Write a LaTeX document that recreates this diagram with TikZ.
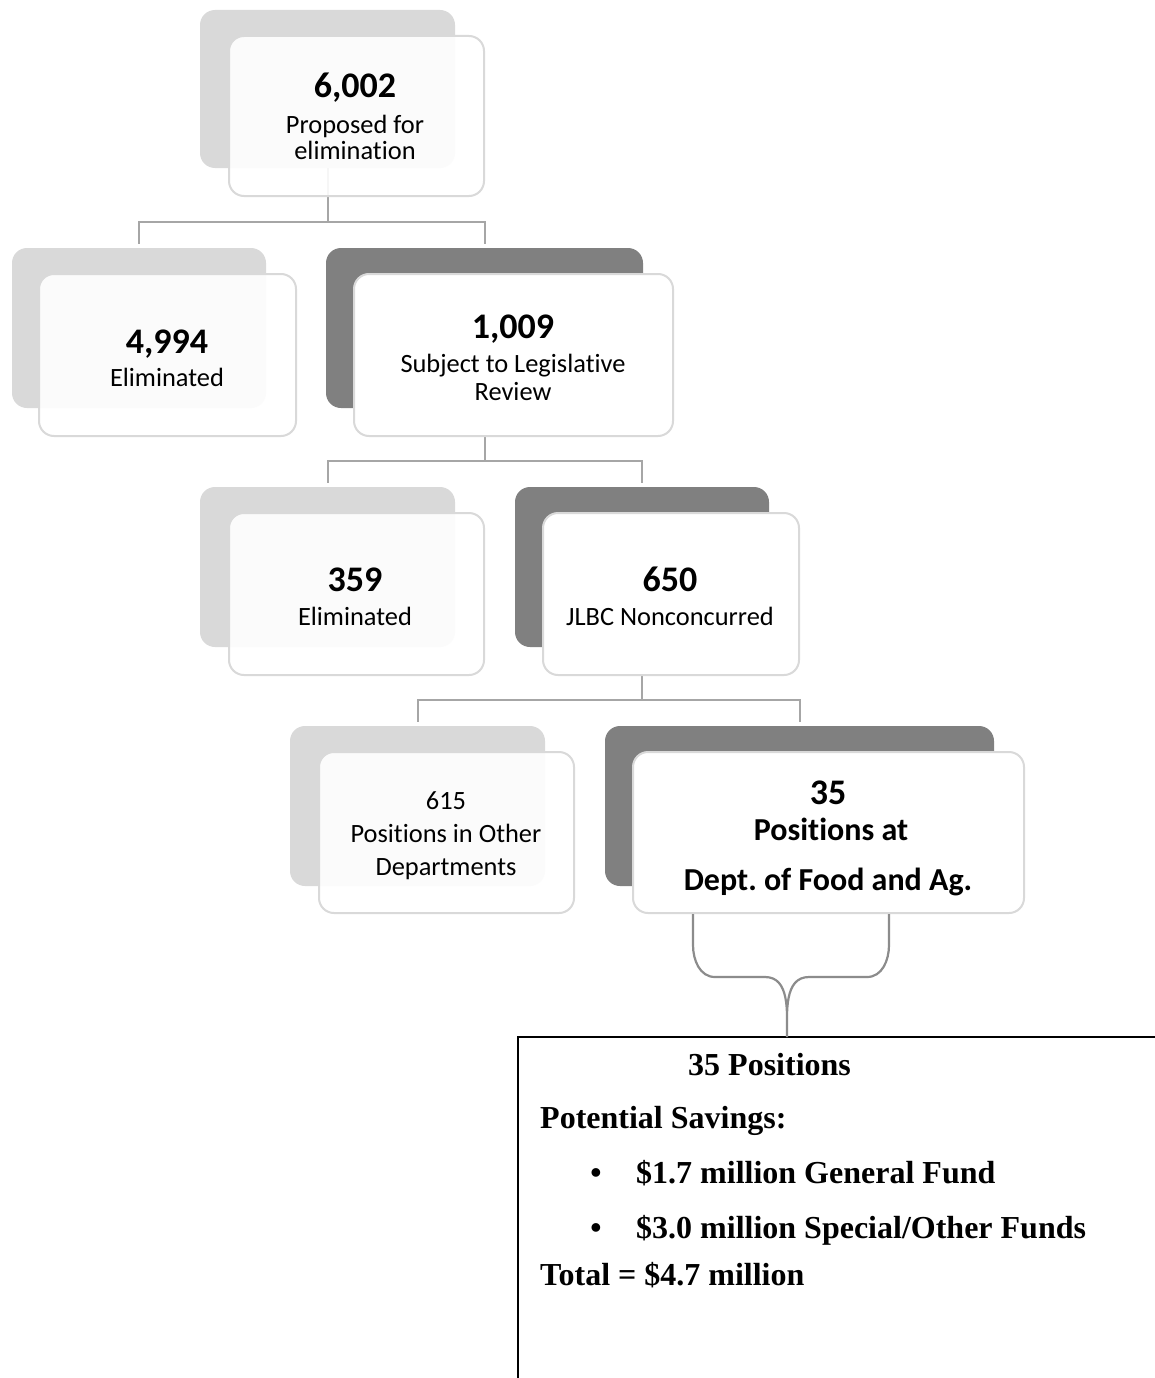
\documentclass[tikz,border=0pt]{standalone}
\usepackage{fontspec}
\setmainfont{Carlito}[Ligatures=NoCommon]
\newfontfamily\savefont{Liberation Serif}
\frenchspacing
\begin{document}
\begin{tikzpicture}[x=1pt,y=-1pt,
  backlight/.style={fill=black!15,rounded corners=15pt,inner sep=0},
  backdark/.style={fill=black!50,rounded corners=15pt,inner sep=0},
  frontbox/.style={draw=black!15,line width=2pt,fill=white,fill opacity=.9,rounded corners=15pt,inner sep=0},
  frontdark/.style={frontbox,fill opacity=1},
  link/.style={draw=black!35,line width=2pt},
  brace/.style={draw=black!45,line width=2.2pt},
  savebox/.style={draw=black,line width=1.5pt,inner sep=0},
  num/.style={anchor=base,inner sep=0,font=\fontsize{36}{36}\selectfont\bfseries},
  lbl/.style={anchor=base,inner sep=0,font=\fontsize{26.4}{26}\selectfont},
  blbl/.style={anchor=base,inner sep=0,font=\fontsize{32}{32}\selectfont\bfseries},
  sav/.style={anchor=base west,inner sep=0,font=\savefont\fontsize{32}{32}\selectfont\bfseries}]
  \fill[white] (0,0) rectangle (1154,1378);
  \useasboundingbox (0,0) rectangle (1154,1378);
  % back boxes
  \node[backlight,minimum width=255pt,minimum height=158pt] (b1) at (327.5,89) {};
  \node[backlight,minimum width=254pt,minimum height=160pt] (b2) at (139,328) {};
  \node[backdark,minimum width=317pt,minimum height=160pt] (b3) at (484.5,328) {};
  \node[backlight,minimum width=255pt,minimum height=160pt] (b4) at (327.5,567) {};
  \node[backdark,minimum width=254pt,minimum height=160pt] (b5) at (642,567) {};
  \node[backlight,minimum width=255pt,minimum height=160pt] (b6) at (417.5,806) {};
  \node[backdark,minimum width=389pt,minimum height=160pt] (b7) at (799.5,806) {};
  % tree lines
  \draw[link] (b1.south) -- ++(0,54) -| ([yshift=4pt]b2.north);
  \draw[link] (b1.south) -- ++(0,54) -| ([yshift=4pt]b3.north);
  \draw[link] (b3.south) -- ++(0,53) -| ([yshift=4pt]b4.north);
  \draw[link] (b3.south) -- ++(0,53) -| ([yshift=4pt]b5.north);
  \draw[link] (b5.south) -- ++(0,53) -| ([yshift=4pt]b6.north);
  \draw[link] (b5.south) -- ++(0,53) -| ([yshift=4pt]b7.north);
  % front boxes
  \node[frontbox,minimum width=255pt,minimum height=160pt] (f1) at (356.5,116) {};
  \node[frontbox,minimum width=257pt,minimum height=162pt] (f2) at (167.5,355) {};
  \node[frontdark,minimum width=319pt,minimum height=162pt] (f3) at (513.5,355) {};
  \node[frontbox,minimum width=255pt,minimum height=162pt] (f4) at (356.5,594) {};
  \node[frontdark,minimum width=256pt,minimum height=162pt] (f5) at (671,594) {};
  \node[frontbox,minimum width=255pt,minimum height=161pt] (f6) at (446.5,832.5) {};
  \node[frontdark,minimum width=391pt,minimum height=161pt] (f7) at (828.5,832.5) {};
  % texts
  \node[num] (n1) at (355,98) {6,002};
  \node[lbl] (l1a) at (355,134) {Proposed for};
  \node[lbl] (l1b) at (355,160) {elimination};
  \node[num] (n2) at (167,353.5) {4,994};
  \node[lbl] (l2) at (167,386) {Eliminated};
  \node[num] (n3) at (513,338.5) {1,009};
  \node[lbl] (l3a) at (513,372) {Subject to Legislative};
  \node[lbl] (l3b) at (513,400) {Review};
  \node[num] (n4) at (355,591.5) {359};
  \node[lbl] (l4) at (355,625) {Eliminated};
  \node[num] (n5) at (670,591.5) {650};
  \node[lbl] (l5) at (670,625) {JLBC Nonconcurred};
  \node[lbl] (n6) at (446,809) {615};
  \node[lbl] (l6a) at (446,842) {Positions in Other};
  \node[lbl] (l6b) at (446,875) {Departments};
  \node[num] (n7) at (828,804.5) {35};
  \node[blbl] (l7a) at (831,840) {Positions at};
  \node[blbl] (l7b) at (828,890) {Dept. of Food and Ag.};
  % savings
  \node[savebox,minimum width=652pt,minimum height=358pt] (save) at (844,1216) {};
  \coordinate (tip) at (787,1037);
  \draw[brace] ([xshift=-135.5pt]f7.south) -- (693,945) to[out=-90,in=180] (715,977) -- (765,977)
    to[out=0,in=90] (tip) to[out=90,in=180] (809,977) -- (867,977)
    to[out=0,in=-90] (889,945) -- ([xshift=60.5pt]f7.south);
  \node[sav] (s1) at (688,1075) {35 Positions};
  \node[sav] (s2) at (540,1128) {Potential Savings:};
  \node[sav,anchor=base] (d1) at (596,1183) {•};
  \node[sav] (s3) at (636,1183) {\$1.7 million General Fund};
  \node[sav,anchor=base] (d2) at (596,1238) {•};
  \node[sav] (s4) at (636,1238) {\$3.0 million Special/Other Funds};
  \node[sav] (s5) at (540,1285) {Total = \$4.7 million};
\end{tikzpicture}
\end{document}
